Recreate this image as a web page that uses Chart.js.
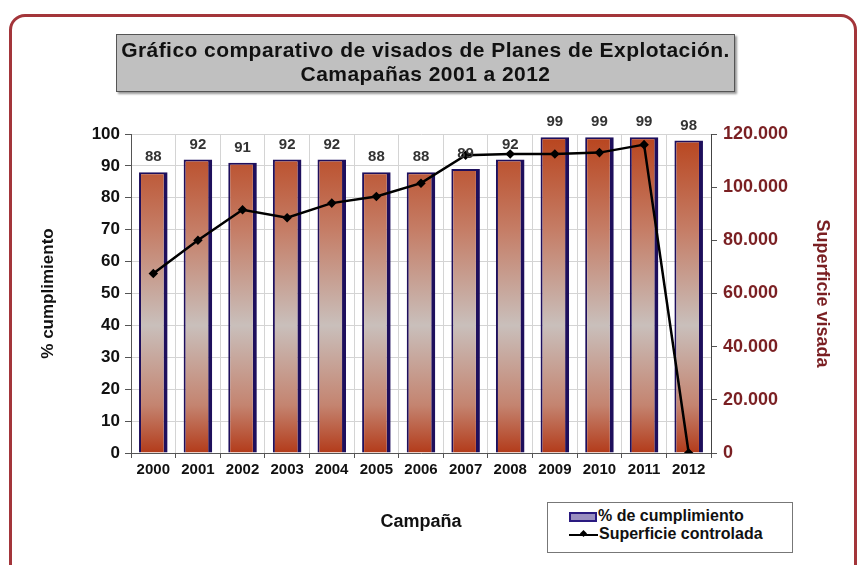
<!DOCTYPE html>
<html>
<head>
<meta charset="utf-8">
<script src="https://cdn.jsdelivr.net/npm/chart.js@4.4.0/dist/chart.umd.min.js"></script>
<style>
  html, body { margin: 0; padding: 0; background: #fff; }
  body { width: 864px; height: 565px; position: relative; overflow: hidden; font-family: Arial, "Liberation Sans", sans-serif; }
  #frame { position: absolute; left: 9px; top: 14px; width: 842px; height: 620px; border: 3px solid #a3353a; border-radius: 16px; }
  #wrap { position: absolute; left: 0; top: 0; width: 864px; height: 565px; }
  #titleBox { position: absolute; left: 116px; top: 34px; width: 617px; height: 53px; background: #c0c0c0; border: 1px solid #555;
    box-shadow: 2px 2px 2px #999; text-align: center; font-weight: bold; font-size: 21px; letter-spacing: 0.45px; line-height: 24px; padding-top: 3px; color: #111; white-space: nowrap; }
  #legend { position: absolute; left: 547px; top: 502px; width: 244px; height: 49px; border: 1px solid #777; background: #fff;
    font-size: 16px; font-weight: bold; color: #111; }
  .item { position: absolute; left: 21px; height: 18px; line-height: 18px; white-space: nowrap; }
  .bar { display: inline-block; width: 24px; height: 6px; border: 2px solid #2a1a80; background: #9a8fc0; vertical-align: middle; margin-right: 1px; }
  .ln { display: inline-block; width: 29px; height: 2px; background: #000; vertical-align: middle; position: relative; margin-right: 1px; }
  .ln::after { content: ''; position: absolute; left: 12px; top: -3px; width: 5px; height: 5px; background: #000; transform: rotate(45deg); }
</style>
</head>
<body>
<div id="frame"></div>
<div id="wrap"><canvas id="chart" width="864" height="565"></canvas></div>
<div id="titleBox">Gráfico comparativo de visados de Planes de Explotación.<br>Camapañas 2001 a 2012</div>
<div id="legend">
  <div class="item" style="top:4px"><span class="bar"></span>% de cumplimiento</div>
  <div class="item" style="top:22px"><span class="ln"></span>Superficie controlada</div>
</div>
<script>
const years = ['2000', '2001', '2002', '2003', '2004', '2005', '2006', '2007', '2008', '2009', '2010', '2011', '2012'];
const cumplimiento = [88, 92, 91, 92, 92, 88, 88, 89, 92, 99, 99, 99, 98];
const superficie = [67500, 80000, 91500, 88500, 94000, 96500, 101500, 112000, 112500, 112500, 113000, 116000, 0];

const byId = (id) => document.getElementById(id);
const FONT = 'Arial, "Liberation Sans", sans-serif';
const dotFmt = (v) => String(v).replace(/\B(?=(\d{3})+(?!\d))/g, '.');

function barFill(ctx) {
  const chart = ctx.chart;
  const area = chart.chartArea;
  if (!area) return '#b5441f';
  const g = chart.ctx.createLinearGradient(0, area.top, 0, area.bottom);
  g.addColorStop(0, '#b8431c');
  g.addColorStop(0.3, '#c57d66');
  g.addColorStop(0.6, '#c9bfbb');
  g.addColorStop(0.85, '#c48470');
  g.addColorStop(1, '#b33b1a');
  return g;
}

// numbers above the bars
const barLabels = {
  id: 'barLabels',
  afterDatasetsDraw(chart) {
    const { ctx } = chart;
    const meta = chart.getDatasetMeta(1);
    ctx.save();
    ctx.font = 'bold 15px ' + FONT;
    ctx.fillStyle = '#333';
    ctx.textAlign = 'center';
    ctx.textBaseline = 'middle';
    meta.data.forEach((bar, i) => {
      ctx.fillText(cumplimiento[i], bar.x, bar.y - 15);
    });
    ctx.restore();
  }
};

new Chart(byId('chart'), {
  type: 'bar',
  data: {
    labels: years,
    datasets: [
      {
        type: 'line',
        label: 'Superficie controlada',
        data: superficie,
        yAxisID: 'y1',
        borderColor: '#000',
        backgroundColor: '#000',
        borderWidth: 2.5,
        pointStyle: 'rectRot',
        pointRadius: 3,
        tension: 0,
        order: 0
      },
      {
        label: '% de cumplimiento',
        data: cumplimiento,
        yAxisID: 'y',
        backgroundColor: barFill,
        borderColor: '#1e0f5c',
        borderWidth: { left: 2, right: 4, top: 2, bottom: 0 },
        borderSkipped: false,
        barPercentage: 0.64,
        categoryPercentage: 1,
        order: 1
      }
    ]
  },
  options: {
    responsive: false,
    animation: false,
    layout: { padding: { top: 134, left: 0, right: 0, bottom: 0 } },
    plugins: { legend: { display: false }, title: { display: false }, tooltip: { enabled: false } },
    scales: {
      x: {
        afterFit: (s) => { s.height = 112; },
        grid: { color: '#d4d4d4', tickColor: '#555', tickLength: 5, offset: true },
        border: { color: '#555', width: 1 },
        ticks: { color: '#111', font: { family: FONT, size: 15, weight: 'bold' }, padding: 3, maxRotation: 0 },
        title: { display: true, text: 'Campaña', color: '#111', font: { family: FONT, size: 18, weight: 'bold' }, padding: { top: 0, bottom: 32 } }
      },
      y: {
        position: 'left',
        min: 0, max: 100,
        afterFit: (s) => { s.width = 131; },
        grid: { color: '#d4d4d4', tickColor: '#555', tickLength: 6 },
        border: { color: '#555', width: 1 },
        ticks: { stepSize: 10, color: '#111', font: { family: FONT, size: 17, weight: 'bold' }, padding: 5 },
        title: { display: true, text: '% cumplimiento', color: '#111', font: { family: FONT, size: 17, weight: 'bold' }, padding: { top: 38, bottom: 0 } }
      },
      y1: {
        position: 'right',
        min: 0, max: 120000,
        afterFit: (s) => { s.width = 153; },
        grid: { drawOnChartArea: false, tickColor: '#555', tickLength: 6 },
        border: { color: '#444', width: 1 },
        ticks: { stepSize: 20000, color: '#7a1f22', font: { family: FONT, size: 18, weight: 'bold' }, padding: 6, callback: (v) => dotFmt(v) },
        title: { display: true, text: 'Superficie visada', color: '#7a1f22', font: { family: FONT, size: 18, weight: 'bold' }, padding: { top: 31, bottom: 0 } }
      }
    }
  },
  plugins: [barLabels]
});
</script>
</body>
</html>
